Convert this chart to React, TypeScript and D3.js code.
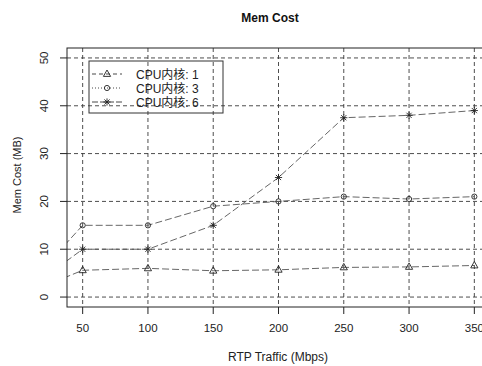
import React from "react";
import * as d3 from "d3";

// RTP traffic (Mbps); the 0 point sits outside the plot and is clipped, as in R
const traffic = [0, 50, 100, 150, 200, 250, 300, 350];
const core1 = [0, 5.6, 6.0, 5.5, 5.7, 6.2, 6.3, 6.6];
const core3 = [0, 15, 15, 19, 20, 21, 20.5, 21];
const core6 = [0, 10, 10, 15, 25, 37.5, 38, 39];
const xTicks = [50, 100, 150, 200, 250, 300, 350];
const yTicks = [0, 10, 20, 30, 40, 50];
const legendLabels = ["CPU内核: 1", "CPU内核: 3", "CPU内核: 6"];

const font = "'Liberation Sans', Arial, 'Noto Sans CJK SC', sans-serif";

function Marker({ kind, x, y }: { kind: string; x: number; y: number }) {
    if (kind == "tri") {
        const r = 4;
        return (
            <path
                d={`M${x},${y - r}L${x + r * 0.9},${y + r * 0.6}L${x - r * 0.9},${y + r * 0.6}Z`}
                fill="none"
                stroke="#222"
                strokeWidth={0.9}
            />
        );
    }
    if (kind == "circ") {
        return <circle cx={x} cy={y} r={2.6} fill="none" stroke="#222" strokeWidth={0.9} />;
    }
    const r = 3.6;
    const d = r * 0.72;
    return (
        <path
            d={`M${x - r},${y}H${x + r}M${x},${y - r}V${y + r}M${x - d},${y - d}L${x + d},${y + d}M${x - d},${y + d}L${x + d},${y - d}`}
            stroke="#222"
            strokeWidth={0.9}
        />
    );
}

export default function App() {
    const width = 482;
    const height = 366;
    const box = { left: 67, right: 490, top: 48, bottom: 307 };

    const x = d3.scaleLinear().domain([38, 362]).range([box.left, box.right]);
    const y = d3.scaleLinear().domain([-2.08, 52.08]).range([box.bottom, box.top]);

    const series = [
        { values: core1, kind: "tri", legendDash: "4,3" },
        { values: core3, kind: "circ", legendDash: "1,2" },
        { values: core6, kind: "star", legendDash: "6,2" },
    ];

    const line = (vals: number[]) =>
        d3
            .line<number>()
            .x((_, i) => x(traffic[i]))
            .y((d) => y(d))(vals) || "";

    const legendRows = [74, 88, 102];

    return (
        <svg
            width={width}
            height={height}
            style={{ position: "absolute", left: 0, top: 0, background: "#fff" }}
            fontFamily={font}
        >
            <defs>
                <clipPath id="plotArea">
                    <rect x={box.left} y={box.top} width={box.right - box.left} height={box.bottom - box.top} />
                </clipPath>
            </defs>

            {/* grid */}
            {xTicks.map((t) => (
                <line
                    key={"gx" + t}
                    x1={x(t)}
                    x2={x(t)}
                    y1={box.top}
                    y2={box.bottom}
                    stroke="#3a3a3a"
                    strokeWidth={0.9}
                    strokeDasharray="4,3"
                />
            ))}
            {yTicks.map((t) => (
                <line
                    key={"gy" + t}
                    x1={box.left}
                    x2={box.right}
                    y1={y(t)}
                    y2={y(t)}
                    stroke="#3a3a3a"
                    strokeWidth={0.9}
                    strokeDasharray="4,3"
                />
            ))}

            {/* series */}
            <g clipPath="url(#plotArea)">
                {series.map((s, i) => (
                    <path
                        key={"l" + i}
                        d={line(s.values)}
                        fill="none"
                        stroke="#555"
                        strokeWidth={0.9}
                        strokeDasharray="7,3"
                    />
                ))}
            </g>
            {series.map((s, i) =>
                s.values.map((v, j) =>
                    traffic[j] >= 38 ? <Marker key={i + "-" + j} kind={s.kind} x={x(traffic[j])} y={y(v)} /> : null
                )
            )}

            {/* box */}
            <rect
                x={box.left}
                y={box.top}
                width={box.right - box.left}
                height={box.bottom - box.top}
                fill="none"
                stroke="#222"
                strokeWidth={1}
            />

            {/* axes */}
            {xTicks.map((t) => (
                <g key={"tx" + t}>
                    <line x1={x(t)} x2={x(t)} y1={box.bottom} y2={box.bottom + 7} stroke="#222" />
                    <text x={x(t)} y={332} textAnchor="middle" fontSize={11.5} fill="#222">
                        {t}
                    </text>
                </g>
            ))}
            {yTicks.map((t) => (
                <g key={"ty" + t}>
                    <line x1={box.left - 7} x2={box.left} y1={y(t)} y2={y(t)} stroke="#222" />
                    <text
                        transform={`translate(48,${y(t)}) rotate(-90)`}
                        textAnchor="middle"
                        fontSize={11.5}
                        fill="#222"
                    >
                        {t}
                    </text>
                </g>
            ))}

            <text x={270} y={22} textAnchor="middle" fontSize={12} fontWeight="bold" fill="#111">
                Mem Cost
            </text>
            <text x={278} y={361} textAnchor="middle" fontSize={12} fill="#222">
                RTP Traffic (Mbps)
            </text>
            <text
                transform={`translate(21,175) rotate(-90)`}
                textAnchor="middle"
                fontSize={11}
                fill="#222"
            >
                Mem Cost (MB)
            </text>

            {/* legend */}
            <rect x={89} y={61} width={134} height={52} fill="none" stroke="#333" strokeWidth={1} />
            {series.map((s, i) => (
                <g key={"lg" + i}>
                    <line
                        x1={92}
                        x2={122}
                        y1={legendRows[i]}
                        y2={legendRows[i]}
                        stroke="#333"
                        strokeWidth={0.9}
                        strokeDasharray={s.legendDash}
                    />
                    <Marker kind={s.kind} x={107} y={legendRows[i]} />
                    <text x={136} y={legendRows[i] + 4.5} fontSize={12} fill="#222">
                        {legendLabels[i]}
                    </text>
                </g>
            ))}
        </svg>
    );
}
